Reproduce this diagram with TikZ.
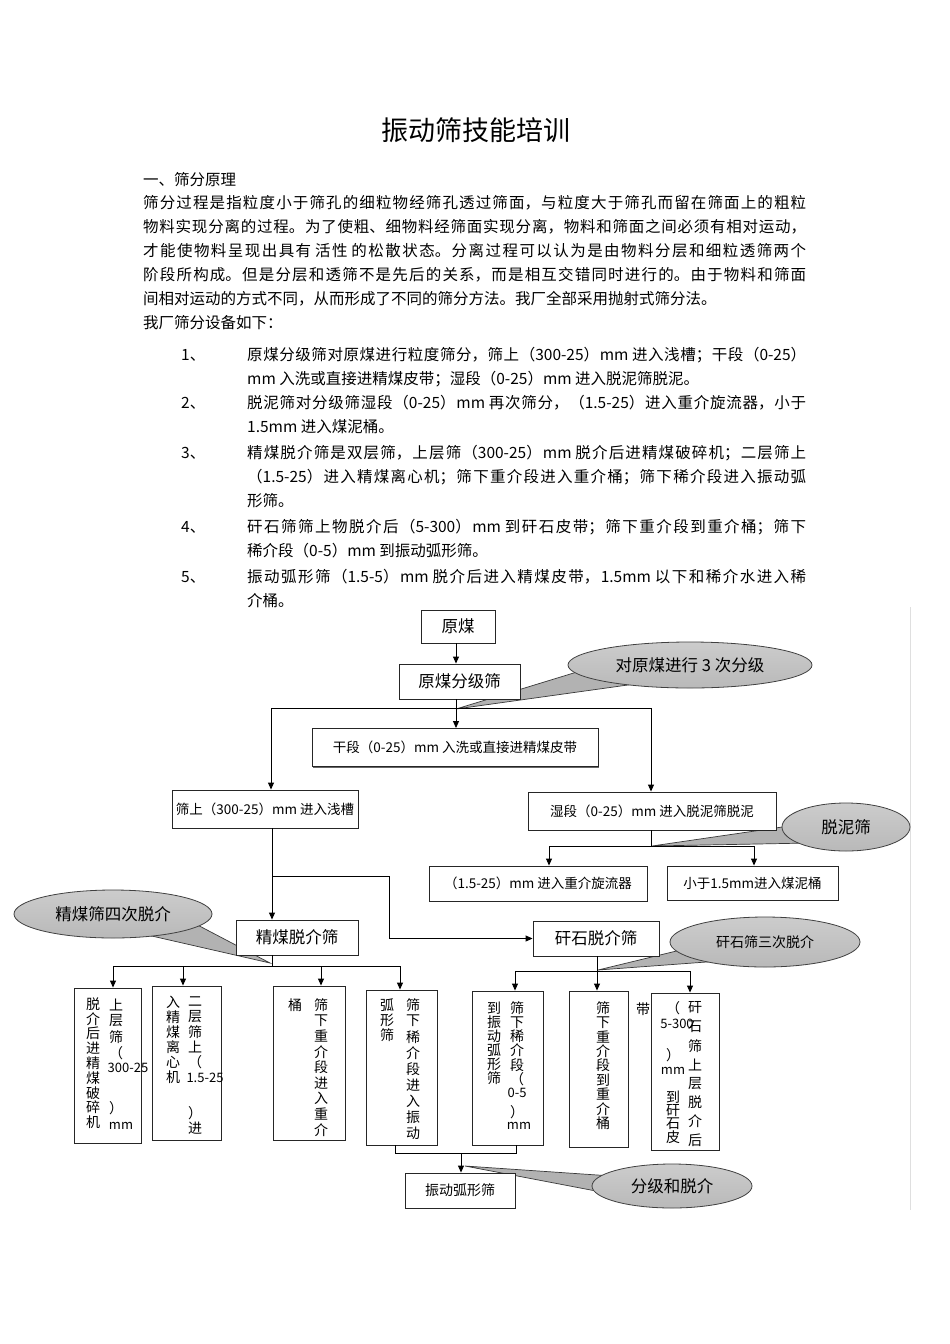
\documentclass[tikz,border=0pt]{standalone}
\usepackage{fontspec}
\setmainfont{Noto Sans CJK SC}
\usetikzlibrary{arrows.meta,shapes.geometric,calc,shadows}
\pgfdeclarelayer{back}
\pgfdeclarelayer{bg}
\pgfsetlayers{back,bg,main}
\newcommand\bodyfs{\fontsize{15.5}{20}\selectfont}
\newcommand\jline[5]{\node[anchor=base west,inner sep=0pt,text width=#4,align=justify,font=\bodyfs] (#1) at (#2,#3) {\XeTeXlinebreaklocale "zh"\XeTeXlinebreakskip=0pt plus 6pt minus 0.6pt\relax\parfillskip=0pt\relax #5\par};}
\newcommand\rline[4]{\node[anchor=base west,inner sep=0pt,font=\bodyfs] (#1) at (#2,#3) {#4};}
\newcommand\vtext[5]{\foreach \ch [count=\k from 0] in {#5}{\node[vch] (#1-\k) at (#2,{#3+\k*#4}) {\ch};}}
\begin{document}
\begin{tikzpicture}[x=1pt,y=-1pt,
  box/.style={draw=black!85,line width=0.9pt,fill=white,inner sep=0pt,
    drop shadow={shadow xshift=1.2pt,shadow yshift=-1.2pt,fill=black!60,opacity=1}},
  big/.style={font=\fontsize{16.5}{18}\selectfont},
  small/.style={font=\fontsize{13.5}{15}\selectfont},
  arr/.style={-{Triangle[length=7pt,width=6pt]},line width=0.9pt},
  ln/.style={line width=0.9pt},
  vch/.style={inner sep=0pt,font=\fontsize{14}{14}\selectfont},
  lat/.style={inner sep=0pt,font=\fontsize{13}{13}\selectfont},
  callout/.style={ellipse,draw=gray!50!black,line width=0.8pt,top color=gray!40,middle color=white,bottom color=gray!55,inner sep=0pt},
  wedge/.style={fill=gray!60,draw=gray!45!black,line width=0.7pt}]
\begin{pgfonlayer}{back}
\fill[white] (0,0) rectangle (950,1344);
\end{pgfonlayer}
\useasboundingbox (0,0) rectangle (950,1344);

% ---------- text ----------
\node[inner sep=0pt,font=\fontsize{27}{30}\selectfont] (title) at (476,130) {振动筛技能培训};
\rline{p0}{143}{185}{一、筛分原理}
\jline{p1}{143}{208}{663pt}{筛分过程是指粒度小于筛孔的细粒物经筛孔透过筛面，与粒度大于筛孔而留在筛面上的粗粒}
\jline{p2}{143}{232}{663pt}{物料实现分离的过程。为了使粗、细物料经筛面实现分离，物料和筛面之间必须有相对运动，}
\jline{p3}{143}{256}{663pt}{才能使物料呈现出具有 活性 的松散状态。分离过程可以认为是由物料分层和细粒透筛两个}
\jline{p4}{143}{280}{663pt}{阶段所构成。但是分层和透筛不是先后的关系，而是相互交错同时进行的。由于物料和筛面}
\rline{p5}{143}{304}{间相对运动的方式不同，从而形成了不同的筛分方法。我厂全部采用抛射式筛分法。}
\rline{p6}{143}{328}{我厂筛分设备如下：}

\rline{n1}{181}{360}{1、}
\jline{i1a}{247}{360}{559pt}{原煤分级筛对原煤进行粒度筛分，筛上（300-25）mm 进入浅槽；干段（0-25）}
\rline{i1b}{247}{384}{mm 入洗或直接进精煤皮带；湿段（0-25）mm 进入脱泥筛脱泥。}
\rline{n2}{181}{408}{2、}
\jline{i2a}{247}{408}{559pt}{脱泥筛对分级筛湿段（0-25）mm 再次筛分，（1.5-25）进入重介旋流器，小于}
\rline{i2b}{247}{432}{1.5mm 进入煤泥桶。}
\rline{n3}{181}{458}{3、}
\jline{i3a}{247}{458}{559pt}{精煤脱介筛是双层筛，上层筛（300-25）mm 脱介后进精煤破碎机；二层筛上}
\jline{i3b}{247}{482}{559pt}{（1.5-25）进入精煤离心机；筛下重介段进入重介桶；筛下稀介段进入振动弧}
\rline{i3c}{247}{506}{形筛。}
\rline{n4}{181}{532}{4、}
\jline{i4a}{247}{532}{559pt}{矸石筛筛上物脱介后（5-300）mm 到矸石皮带；筛下重介段到重介桶；筛下}
\rline{i4b}{247}{556}{稀介段（0-5）mm 到振动弧形筛。}
\rline{n5}{181}{582}{5、}
\jline{i5a}{247}{582}{559pt}{振动弧形筛（1.5-5）mm 脱介后进入精煤皮带，1.5mm 以下和稀介水进入稀}
\rline{i5b}{247}{606}{介桶。}

% page edge line
\draw[gray!25,line width=0.8pt] (910,607) -- (910,1210);

% ---------- boxes ----------
\node[box,big,minimum width=74,minimum height=33] (ym) at (458,626.5) {原煤};
\node[box,big,minimum width=121,minimum height=35] (fj) at (459.5,681.5) {原煤分级筛};
\node[box,small,minimum width=286,minimum height=38] (gan) at (455,747.5) {干段（0-25）mm 入洗或直接进精煤皮带};
\node[box,small,minimum width=186,minimum height=38] (sh) at (265,809) {筛上（300-25）mm 进入浅槽};
\node[box,small,minimum width=248,minimum height=38] (shi) at (652,811) {湿段（0-25）mm 进入脱泥筛脱泥};
\node[box,small,minimum width=218,minimum height=35] (zj) at (538,883.5) {（1.5-25）mm 进入重介旋流器};
\node[box,small,minimum width=171,minimum height=34] (mud) at (752.5,883) {小于1.5mm进入煤泥桶};
\node[box,big,minimum width=122,minimum height=35] (jm) at (297,937.5) {精煤脱介筛};
\node[box,big,minimum width=126,minimum height=35] (gs) at (596,938.5) {矸石脱介筛};
\node[box,font=\fontsize{14}{15}\selectfont,minimum width=110,minimum height=35] (zd) at (460,1190.5) {振动弧形筛};

\node[box,minimum width=67,minimum height=155] (b1) at (107.5,1065.5) {};
\node[box,minimum width=69,minimum height=154] (b2) at (186.5,1063) {};
\node[box,minimum width=72,minimum height=154] (b3) at (309,1063) {};
\node[box,minimum width=71,minimum height=155] (b4) at (401.5,1067.5) {};
\node[box,minimum width=71,minimum height=154] (b5) at (507.5,1068) {};
\node[box,minimum width=59,minimum height=156] (b6) at (598.5,1069) {};
\node[box,minimum width=68,minimum height=157] (b7) at (685,1071.5) {};

% vertical texts
\vtext{b1l}{93}{1004}{14.8}{脱,介,后,进,精,煤,破,碎,机}
\vtext{b1r}{116}{1005}{16}{上,层,筛,（}
\node[lat] (b1n) at (128,1068) {300-25};
\node[vch] (b1p) at (116,1108) {）};
\node[lat] (b1m) at (121,1126) {mm};

\vtext{b2l}{173}{1002}{15}{入,精,煤,离,心,机}
\vtext{b2r}{195}{1002}{15}{二,层,筛,上,（}
\node[lat] (b2n) at (205,1078) {1.5-25};
\node[vch] (b2p) at (195,1113) {）};
\node[vch] (b2j) at (195,1128) {进};

\node[vch] (b3l) at (295,1005) {桶};
\vtext{b3r}{321}{1005}{15.6}{筛,下,重,介,段,进,入,重,介}

\vtext{b4l}{387}{1005}{15}{弧,形,筛}
\vtext{b4r}{413}{1005}{16}{筛,下,稀,介,段,进,入,振,动}

\vtext{b5l}{494}{1008}{14}{到,振,动,弧,形,筛}
\vtext{b5r}{517}{1008}{14.2}{筛,下,稀,介,段,（}
\node[lat] (b5n) at (517,1093) {0-5};
\node[vch] (b5p) at (517,1112) {）};
\node[lat] (b5m) at (519,1126) {mm};

\vtext{b6c}{603}{1008}{14.4}{筛,下,重,介,段,到,重,介,桶}
\node[vch] (dai) at (643,1009) {带};

\vtext{b7r}{695}{1008}{18.9}{矸,石,筛,上,层,脱,介,后}
\node[vch] (b7a) at (673,1008) {（};
\node[lat] (b7n) at (677,1024) {5-300};
\node[vch] (b7p) at (673,1055) {）};
\node[lat] (b7m) at (673,1071) {mm};
\vtext{b7l}{673}{1097}{13.5}{到,矸,石,皮}

% ---------- connectors ----------
\coordinate (j0) at (456,708);
\coordinate (jl) at (271,708);
\coordinate (jr) at (651,708);
\draw[arr] (j0 |- ym.south) -- (j0 |- fj.north);
\draw[ln] (j0 |- fj.south) -- (j0);
\draw[ln] (jl) -- (jr);
\draw[arr] (j0) -- (j0 |- gan.north);
\draw[arr] (jl) -- (jl |- sh.north);
\draw[arr] (jr) -- (jr |- shi.north);

\coordinate (j1) at (651,846);
\coordinate (j1l) at (549,846);
\coordinate (j1r) at (754,846);
\draw[ln] (j1 |- shi.south) -- (j1);
\draw[ln] (j1l) -- (j1r);
\draw[arr] (j1l) -- (j1l |- zj.north);
\draw[arr] (j1r) -- (j1r |- mud.north);

\coordinate (j2) at (272,876);
\coordinate (j2r) at (389,876);
\draw[arr] (j2 |- sh.south) -- (j2 |- jm.north);
\draw[arr] (j2) -- (j2r) |- (gs.west);

\coordinate (j3) at (272,966);
\coordinate (a1) at (113,966);
\coordinate (a2) at (183,966);
\coordinate (a3) at (321,966);
\coordinate (a4) at (400,966);
\draw[ln] (j3 |- jm.south) -- (j3);
\draw[ln] (a1) -- (a4);
\draw[arr] (a1) -- (a1 |- b1.north);
\draw[arr] (a2) -- (a2 |- b2.north);
\draw[arr] (a3) -- (a3 |- b3.north);
\draw[arr] (a4) -- (a4 |- b4.north);

\coordinate (j4) at (597,971);
\coordinate (g1) at (515,971);
\coordinate (g3) at (690,971);
\draw[ln] (j4 |- gs.south) -- (j4);
\draw[ln] (g1) -- (g3);
\draw[arr] (g1) -- (g1 |- b5.north);
\draw[arr] (j4) -- (j4 |- b6.north);
\draw[arr] (g3) -- (g3 |- b7.north);

\coordinate (k1) at (395,1153);
\coordinate (k2) at (516,1153);
\coordinate (k0) at (461,1153);
\draw[ln] (k1 |- b4.south) -- (k1) -- (k2) -- (k2 |- b5.south);
\draw[arr] (k0) -- (k0 |- zd.north);

% ---------- callouts ----------
\node[callout,font=\fontsize{16.5}{18}\selectfont,minimum width=244,minimum height=46] (c1) at (690,665) {对原煤进行 3 次分级};
\node[callout,font=\fontsize{16.5}{18}\selectfont,minimum width=198,minimum height=48] (c2) at (113,914) {精煤筛四次脱介};
\node[callout,font=\fontsize{16.5}{18}\selectfont,minimum width=128,minimum height=48] (c3) at (846,827) {脱泥筛};
\node[callout,font=\fontsize{14}{16}\selectfont,minimum width=190,minimum height=50] (c4) at (765,942) {矸石筛三次脱介};
\node[callout,font=\fontsize{16.5}{18}\selectfont,minimum width=160,minimum height=44] (c5) at (672,1186) {分级和脱介};
\coordinate (t1) at (456,709);
\coordinate (t2) at (270,963);
\coordinate (t3) at (652,846);
\coordinate (t4) at (598,970);
\coordinate (t5) at (465,1166);
\begin{pgfonlayer}{bg}
\draw[wedge] (t1) -- ($(c1.center)+(-100,3)$) -- ($(c1.center)+(-55,19)$) -- cycle;
\draw[wedge] (t2) -- ($(c2.center)+(75,6)$) -- ($(c2.center)+(30,20)$) -- cycle;
\draw[wedge] (t3) -- ($(c3.center)+(-50,-2)$) -- ($(c3.center)+(-36,16)$) -- cycle;
\draw[wedge] (t4) -- ($(c4.center)+(-72,5)$) -- ($(c4.center)+(-45,19)$) -- cycle;
\draw[wedge] (t5) -- ($(c5.center)+(-60,-10)$) -- ($(c5.center)+(-55,9)$) -- cycle;
\end{pgfonlayer}
\end{tikzpicture}
\end{document}
